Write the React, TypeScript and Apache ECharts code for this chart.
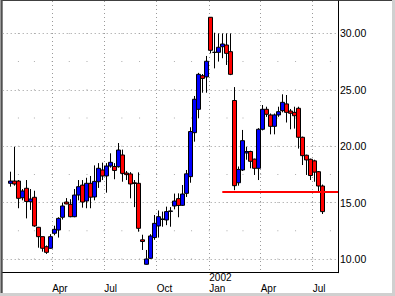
import React, { useEffect, useRef } from 'react';
import * as echarts from 'echarts';

// Weekly candles, first week starting Monday 2001-01-15
const firstWeekStart = '2001-01-15';

const opens = [
  16.71, 16.91, 16.91, 15.43, 16.27, 15.08, 15.47, 12.81, 11.98, 11.09,
  10.95, 12.28, 12.57, 13.7, 15.05, 14.85, 13.75, 15.67, 16.55, 15.14,
  16.71, 15.5, 16.85, 17.89, 17.36, 18.24, 18.2, 18.18, 19.22, 17.62,
  17.54, 16.75, 16.71, 11.7, 9.53, 10.06, 11.9, 12.93, 13.5, 13.46,
  14.22, 14.7, 15.35, 14.76, 15.82, 17.3, 21.2, 23.27, 26.25, 26.14,
  31.43, 28.32, 28.32, 28.82, 28.97, 28.38, 24.05, 16.76, 17.89, 19.4,
  19.53, 18.85, 18.04, 21.5, 23.27, 22.77, 21.76, 22.77, 23.15, 23.75,
  23.12, 23.0, 23.36, 20.79, 19.2, 18.84, 18.7, 17.74, 16.47,
];
const closes = [
  16.91, 16.65, 15.38, 16.03, 15.1, 15.32, 12.93, 11.98, 10.95, 10.59,
  11.98, 12.63, 13.6, 14.7, 14.88, 13.75, 15.67, 16.41, 15.05, 16.71,
  15.48, 16.88, 18.04, 17.36, 18.24, 18.57, 17.85, 19.66, 17.59, 17.48,
  16.65, 16.7, 12.72, 11.55, 10.0, 12.04, 13.16, 13.75, 13.55, 14.2,
  14.26, 15.14, 14.75, 15.76, 17.55, 21.3, 24.16, 26.37, 26.01, 27.53,
  28.5, 28.32, 28.77, 29.06, 28.23, 26.37, 16.5, 17.94, 20.49, 19.53,
  18.66, 18.04, 21.5, 23.27, 22.83, 21.76, 22.77, 23.06, 23.89, 23.0,
  22.92, 22.7, 20.79, 19.16, 18.78, 17.4, 17.7, 16.47, 14.2,
];
const lows = [
  16.41, 16.5, 14.5, 15.2, 13.6, 14.35, 12.85, 11.0, 10.65, 10.45,
  10.9, 12.1, 11.9, 13.5, 14.85, 13.7, 13.7, 15.2, 14.55, 14.5,
  14.5, 15.2, 16.3, 17.0, 15.88, 18.1, 17.07, 18.1, 16.85, 17.0,
  15.38, 14.6, 12.42, 10.8, 9.5, 10.0, 11.7, 11.9, 12.86, 13.0,
  12.86, 14.4, 13.7, 14.7, 15.5, 16.76, 20.4, 22.47, 24.74, 24.74,
  28.23, 26.9, 27.5, 27.8, 27.2, 26.3, 16.1, 16.5, 17.8, 18.8,
  18.04, 17.45, 17.0, 21.4, 22.6, 21.05, 21.05, 22.6, 23.0, 22.1,
  21.5, 21.56, 19.79, 18.33, 17.45, 17.0, 16.85, 15.97, 13.99,
];
const highs = [
  17.74, 19.95, 17.0, 16.2, 17.0, 16.2, 16.05, 12.85, 12.0, 11.2,
  12.2, 12.95, 13.7, 15.0, 15.4, 15.3, 16.2, 17.0, 17.0, 17.2,
  17.36, 18.3, 18.5, 18.54, 18.5, 19.37, 18.5, 20.28, 19.7, 17.8,
  17.7, 17.0, 17.68, 12.15, 10.8, 12.2, 13.9, 14.3, 14.2, 14.64,
  14.6, 15.8, 15.82, 16.56, 17.89, 21.68, 24.45, 26.5, 26.4, 28.0,
  31.45, 30.06, 30.0, 30.0, 30.0, 30.0, 25.24, 18.2, 21.44, 19.95,
  19.6, 18.9, 21.6, 23.65, 23.5, 22.9, 22.9, 23.5, 24.6, 24.54,
  23.3, 23.5, 23.5, 20.85, 19.25, 18.9, 18.8, 17.8, 16.6,
];

const quarterDates = ['2001-04-01', '2001-07-01', '2001-10-01', '2002-01-01', '2002-04-01', '2002-07-01'];
const quarterLabels = ['\nApr', '\nJul', '\nOct', '2002\nJan', '\nApr', '\nJul'];
const monthDates = [
  '2001-02-01', '2001-03-01', '2001-04-01', '2001-05-01', '2001-06-01', '2001-07-01',
  '2001-08-01', '2001-09-01', '2001-10-01', '2001-11-01', '2001-12-01', '2002-01-01',
  '2002-02-01', '2002-03-01', '2002-04-01', '2002-05-01', '2002-06-01', '2002-07-01', '2002-08-01',
];
const priceTicks = [10, 15, 20, 25, 30];
const gridLevels = [10, 12.5, 15, 17.5, 20, 22.5, 25, 27.5, 30];
const supportLevel = 16.0;
const supportFromWeek = 52.9;

const DAY = 86400000;
const t0 = Date.parse(firstWeekStart + 'T00:00:00Z');
const weekPos = (d: string) => (Date.parse(d + 'T00:00:00Z') - t0) / (7 * DAY) - 0.5;

const X_MIN = -2;
const X_MAX = 81.825;
const FONT = 'Liberation Sans, Arial, sans-serif';

export default function App() {
  const ref = useRef<HTMLDivElement>(null);
  useEffect(() => {
    if (!ref.current) return;
    const chart = echarts.init(ref.current, null, { renderer: 'svg' });
    const quarterPos = quarterDates.map(weekPos);
    const candles = opens.map((o, i) => [i, o, closes[i], lows[i], highs[i]]);
    const dots: number[][] = [];
    monthDates.forEach((m) => gridLevels.forEach((lv) => dots.push([weekPos(m), lv])));
    const gridLine = { show: true, lineStyle: { color: '#9a9a9a', width: 1, type: [1, 3] } };

    chart.setOption({
      animation: false,
      backgroundColor: '#ffffff',
      grid: { left: 2.7, right: 57, top: 1, bottom: 23.3, containLabel: false },
      xAxis: {
        type: 'value',
        min: X_MIN,
        max: X_MAX,
        position: 'bottom',
        axisLine: { show: true, onZero: false, lineStyle: { color: '#000', width: 1 } },
        axisTick: { show: false, customValues: quarterPos },
        axisLabel: {
          customValues: quarterPos,
          formatter: (v: number) => {
            const k = quarterPos.findIndex((p) => Math.abs(p - v) < 1e-6);
            return k >= 0 ? quarterLabels[k] : '';
          },
          align: 'left',
          margin: 0,
          lineHeight: 10.5,
          fontSize: 10,
          color: '#000',
          fontFamily: FONT,
        },
        splitLine: gridLine,
      },
      yAxis: {
        type: 'value',
        min: 8.785,
        max: 32.872,
        position: 'right',
        axisLine: { show: true, onZero: false, lineStyle: { color: '#000', width: 1 } },
        axisTick: { show: false, customValues: priceTicks },
        axisLabel: {
          customValues: priceTicks,
          formatter: (v: number) => v.toFixed(2),
          margin: 2,
          fontSize: 10.5,
          color: '#000',
          fontFamily: FONT,
        },
        splitLine: gridLine,
      },
      series: [
        {
          type: 'scatter',
          data: dots,
          symbol: 'rect',
          symbolSize: 1,
          itemStyle: { color: '#9a9a9a' },
          silent: true,
          z: 1,
        },
        {
          type: 'candlestick',
          data: candles,
          encode: { x: 0, y: [1, 2, 3, 4] },
          barWidth: 4.5,
          z: 3,
          itemStyle: {
            color: '#0000ff',
            color0: '#ff0000',
            borderColor: '#000000',
            borderColor0: '#000000',
            borderColorDoji: '#000000',
            borderWidth: 1,
          },
          markLine: {
            silent: true,
            symbol: ['none', 'none'],
            label: { show: false },
            lineStyle: { color: '#ff0000', width: 2, type: 'solid' },
            data: [[{ coord: [supportFromWeek, supportLevel] }, { coord: [X_MAX, supportLevel] }]],
          },
        },
      ],
      graphic: [
        { type: 'rect', silent: true, shape: { x: 0, y: 0, width: 395, height: 1 }, style: { fill: '#404040' } },
        { type: 'rect', silent: true, shape: { x: 0, y: 0, width: 1, height: 296 }, style: { fill: '#9a9a9a' } },
        { type: 'rect', silent: true, shape: { x: 1, y: 0, width: 1.7, height: 296 }, style: { fill: '#505050' } },
        { type: 'rect', silent: true, shape: { x: 0, y: 293, width: 395, height: 3 }, style: { fill: '#d0d0d0' } },
        { type: 'rect', silent: true, shape: { x: 392, y: 0, width: 3, height: 296 }, style: { fill: '#d0d0d0' } },
      ],
    });
    return () => chart.dispose();
  }, []);
  return <div ref={ref} style={{ position: 'absolute', left: 0, top: 0, width: 395, height: 296 }} />;
}
